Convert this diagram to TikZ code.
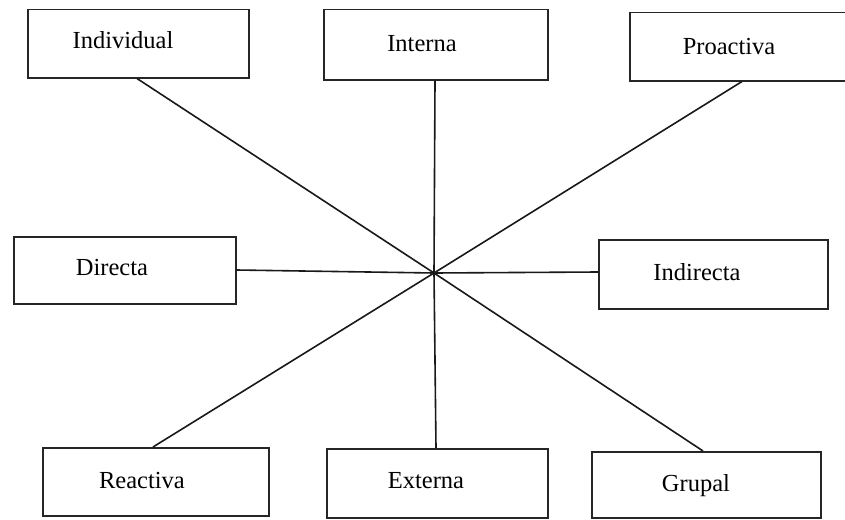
\documentclass[tikz,border=0pt]{standalone}
\usepackage{fontspec}
\setmainfont{Liberation Serif}
\begin{document}
\begin{tikzpicture}[
  x=1pt, y=-1pt,
  box/.style={draw=black!85, line width=1.5pt, rectangle, inner sep=0pt, anchor=north west},
  lbl/.style={font=\fontsize{24.5}{28}\selectfont, inner sep=0pt, text height=0.68em, text depth=0pt, anchor=center},
  spoke/.style={draw=black!90, line width=1.6pt}
]
\clip (0,0) rectangle (845,519);
\fill[white] (0,0) rectangle (845,519);

% boxes
\node[box, minimum width=221, minimum height=68] (ind) at (27,9) {};
\node[box, minimum width=224, minimum height=70] (int) at (323,9) {};
\node[box, minimum width=240, minimum height=68] (pro) at (629,12) {};
\node[box, minimum width=222, minimum height=67] (dir) at (13,236) {};
\node[box, minimum width=229, minimum height=69] (ndr) at (598,239) {};
\node[box, minimum width=226, minimum height=68] (rea) at (42,447) {};
\node[box, minimum width=221, minimum height=69] (ext) at (326,448) {};
\node[box, minimum width=229, minimum height=66] (gru) at (591,451) {};

% labels
\node[lbl] (tind) at (123,45) {Individual};
\node[lbl] (tint) at (422,48) {Interna};
\node[lbl] (tpro) at (729,51) {Proactiva};
\node[lbl] (tdir) at (112,272) {Directa};
\node[lbl] (tndr) at (697,277) {Indirecta};
\node[lbl] (trea) at (142,485) {Reactiva};
\node[lbl] (text) at (426,485) {Externa};
\node[lbl] (tgru) at (696,488) {Grupal};

% hub
\coordinate (c) at (434,273);

% spokes
\draw[spoke] (ind.south -| 137,0) -- (c);
\draw[spoke] (int.south -| 435,0) -- (c);
\draw[spoke] (pro.south -| 742,0) -- (c);
\draw[spoke] (dir.east |- 0,270) -- (c);
\draw[spoke] (ndr.west |- 0,272) -- (c);
\draw[spoke] (rea.north -| 153,0) -- (c);
\draw[spoke] (ext.north -| 436,0) -- (c);
\draw[spoke] (gru.north -| 703,0) -- (c);
\end{tikzpicture}
\end{document}
